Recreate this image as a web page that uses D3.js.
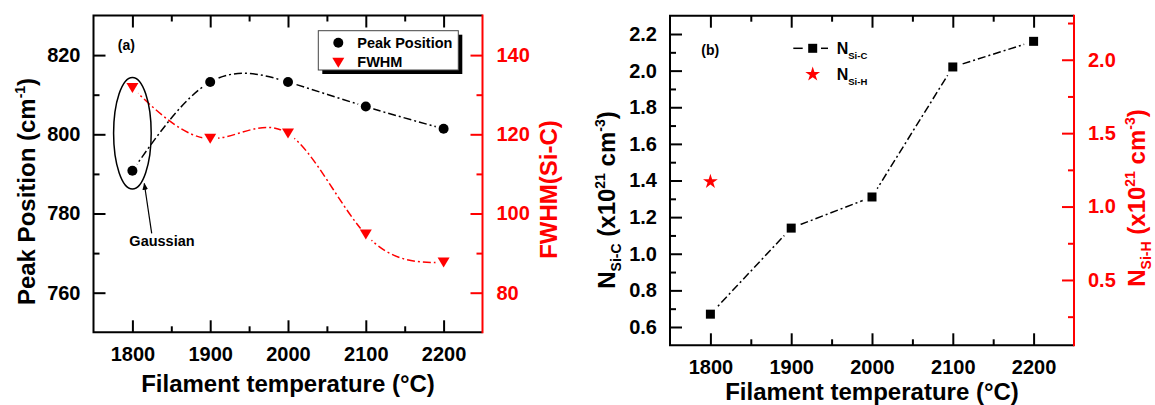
<!DOCTYPE html>
<html>
<head>
<meta charset="utf-8">
<script src="https://cdn.jsdelivr.net/npm/d3@7"></script>
<style>
  html, body { margin: 0; padding: 0; background: #fff; }
  svg { display: block; font-family: "Liberation Sans", Arial, sans-serif; font-weight: bold; }
</style>
</head>
<body>
<svg id="fig" width="1155" height="405"></svg>
<script>
// Filament temperature series (°C)
const temps = [1800, 1900, 2000, 2100, 2200];
// Panel (a): Raman Si-C band
const peakPosition = [790.8, 813.2, 813.2, 807.0, 801.4];   // cm^-1
const fwhm = [131.7, 118.9, 120.2, 94.7, 87.6];             // FWHM(Si-C)
// Panel (b): bond densities (x10^21 cm^-3)
const nSiC = [0.67, 1.14, 1.31, 2.02, 2.16];
const nSiHTemps = [1800];
const nSiH = [1.17];

// Axis ticks
const xTicks = [1800, 1900, 2000, 2100, 2200];
const xMinor = [1850, 1950, 2050, 2150];
const peakTicks = [760, 780, 800, 820];
const peakMinor = [770, 790, 810];
const fwhmTicks = [80, 100, 120, 140];
const fwhmMinor = [90, 110, 130];
const nSiCTicks = [0.6, 0.8, 1.0, 1.2, 1.4, 1.6, 1.8, 2.0, 2.2];
const nSiCMinor = [0.7, 0.9, 1.1, 1.3, 1.5, 1.7, 1.9, 2.1];
const nSiHTicks = [0.5, 1.0, 1.5, 2.0];
const nSiHMinor = [0.25, 0.75, 1.25, 1.75, 2.25];

const RED = "#ff0000";
const svg = d3.select("#fig");
const defs = svg.append("defs");

defs.append("marker")
  .attr("id", "arrowHead")
  .attr("viewBox", "0 0 10 10")
  .attr("refX", 9).attr("refY", 5)
  .attr("markerWidth", 7).attr("markerHeight", 7)
  .attr("markerUnits", "userSpaceOnUse")
  .attr("orient", "auto")
  .append("path").attr("d", "M0,1 L10,5 L0,9 Z").attr("fill", "#000");

const DASHDOT = "8,3,2,3";

// Writes a text built from runs: {t, s(size), dy}
function richText(sel, runs) {
  runs.forEach(r => {
    const ts = sel.append("tspan").text(r.t);
    if (r.s) ts.attr("font-size", r.s);
    if (r.dy) ts.attr("dy", r.dy);
  });
  return sel;
}

// Frame + axes for one panel
function drawFrame(g, box, x, yL, yR, opts) {
  const { left, right, top, bottom } = box;
  const styleAxis = (a, color) => {
    a.select(".domain").remove();
    a.selectAll("line").attr("stroke", color).attr("stroke-width", 2);
    a.selectAll("text").attr("fill", color)
      .attr("font-size", 20).attr("font-family", "Liberation Sans, Arial, sans-serif")
      .attr("font-weight", "bold");
  };
  // bottom
  styleAxis(g.append("g").attr("transform", `translate(0,${bottom})`)
    .call(d3.axisBottom(x).tickValues(xTicks).tickSize(-12).tickPadding(15).tickFormat(d3.format("d"))), "#000");
  styleAxis(g.append("g").attr("transform", `translate(0,${bottom})`)
    .call(d3.axisBottom(x).tickValues(xMinor).tickSize(-6).tickFormat("")), "#000");
  // top
  styleAxis(g.append("g").attr("transform", `translate(0,${top})`)
    .call(d3.axisTop(x).tickValues(xTicks).tickSize(-12).tickFormat("")), "#000");
  styleAxis(g.append("g").attr("transform", `translate(0,${top})`)
    .call(d3.axisTop(x).tickValues(xMinor).tickSize(-6).tickFormat("")), "#000");
  // left
  styleAxis(g.append("g").attr("transform", `translate(${left},0)`)
    .call(d3.axisLeft(yL).tickValues(opts.lTicks).tickSize(-12).tickPadding(13).tickFormat(opts.lFmt)), "#000");
  styleAxis(g.append("g").attr("transform", `translate(${left},0)`)
    .call(d3.axisLeft(yL).tickValues(opts.lMinor).tickSize(-6).tickFormat("")), "#000");
  // right (red)
  styleAxis(g.append("g").attr("transform", `translate(${right},0)`)
    .call(d3.axisRight(yR).tickValues(opts.rTicks).tickSize(-12).tickPadding(14).tickFormat(opts.rFmt)), RED);
  styleAxis(g.append("g").attr("transform", `translate(${right},0)`)
    .call(d3.axisRight(yR).tickValues(opts.rMinor).tickSize(-6).tickFormat("")), RED);

  // frame lines
  g.append("path").attr("d", `M${right},${top} L${left},${top} L${left},${bottom} L${right},${bottom}`)
    .attr("fill", "none").attr("stroke", "#000").attr("stroke-width", 2);
  g.append("line").attr("x1", right).attr("x2", right).attr("y1", top - 1).attr("y2", bottom + 1)
    .attr("stroke", RED).attr("stroke-width", 2);
}

// mask that hides a line near its markers
function gapMask(id, box, pts, r) {
  const m = defs.append("mask").attr("id", id).attr("maskUnits", "userSpaceOnUse")
    .attr("x", 0).attr("y", 0).attr("width", 1155).attr("height", 405);
  m.append("rect").attr("width", 1155).attr("height", 405).attr("fill", "#fff");
  m.selectAll("circle").data(pts).join("circle")
    .attr("cx", d => d[0]).attr("cy", d => d[1]).attr("r", r).attr("fill", "#000");
  return `url(#${id})`;
}

function downTriangle(cx, cy) {
  return `M${cx - 6},${cy - 5} L${cx + 6},${cy - 5} L${cx},${cy + 5} Z`;
}

// ---------------- Panel (a) ----------------
{
  const box = { left: 93.5, right: 482.5, top: 15.5, bottom: 332.3 };
  const x = d3.scaleLinear().domain([1750, 2250]).range([box.left, box.right]);
  const yL = d3.scaleLinear().domain([750, 830]).range([box.bottom, box.top]);
  const yR = d3.scaleLinear().domain([70, 150]).range([box.bottom, box.top]);
  const g = svg.append("g");

  drawFrame(g, box, x, yL, yR, {
    lTicks: peakTicks, lMinor: peakMinor, lFmt: d3.format("d"),
    rTicks: fwhmTicks, rMinor: fwhmMinor, rFmt: d3.format("d")
  });

  const peakPts = temps.map((t, i) => [x(t), yL(peakPosition[i])]);
  const fwhmPts = temps.map((t, i) => [x(t), yR(fwhm[i])]);
  const spline = d3.line().curve(d3.curveNatural);

  g.append("path").attr("d", spline(peakPts))
    .attr("fill", "none").attr("stroke", "#000").attr("stroke-width", 1.5)
    .attr("stroke-dasharray", DASHDOT)
    .attr("mask", gapMask("gapPeak", box, peakPts, 8));
  g.append("path").attr("d", spline(fwhmPts))
    .attr("fill", "none").attr("stroke", RED).attr("stroke-width", 1.5)
    .attr("stroke-dasharray", DASHDOT)
    .attr("mask", gapMask("gapFwhm", box, fwhmPts, 8));

  g.selectAll("circle.peak").data(peakPts).join("circle").attr("class", "peak")
    .attr("cx", d => d[0]).attr("cy", d => d[1]).attr("r", 5).attr("fill", "#000");
  g.selectAll("path.fwhm").data(fwhmPts).join("path").attr("class", "fwhm")
    .attr("d", d => downTriangle(d[0], d[1])).attr("fill", RED);

  // Gaussian annotation around the 1800 °C points
  g.append("ellipse").attr("cx", x(1800)).attr("cy", 133.2).attr("rx", 18.8).attr("ry", 55.8)
    .attr("fill", "none").attr("stroke", "#000").attr("stroke-width", 1.5);
  g.append("line").attr("x1", 151.7).attr("y1", 233.3).attr("x2", 144.3).attr("y2", 183.5)
    .attr("stroke", "#000").attr("stroke-width", 1.2).attr("marker-end", "url(#arrowHead)");
  g.append("text").attr("x", 162).attr("y", 246).attr("text-anchor", "middle")
    .attr("font-size", 14.5).text("Gaussian");

  g.append("text").attr("x", 126.3).attr("y", 50).attr("text-anchor", "middle")
    .attr("font-size", 14).text("(a)");

  // legend
  g.append("rect").attr("x", 322.3).attr("y", 34.7).attr("width", 140).attr("height", 39.3).attr("fill", "#000");
  g.append("rect").attr("x", 318.3).attr("y", 30.7).attr("width", 140).attr("height", 39.3)
    .attr("fill", "#fff").attr("stroke", "#444").attr("stroke-width", 1);
  g.append("circle").attr("cx", 338.3).attr("cy", 42.7).attr("r", 5).attr("fill", "#000");
  g.append("text").attr("x", 357.3).attr("y", 47.5).attr("font-size", 14.5).text("Peak Position");
  g.append("path").attr("d", downTriangle(338.3, 62.7)).attr("fill", RED);
  g.append("text").attr("x", 357.3).attr("y", 66.5).attr("font-size", 14.5).text("FWHM");

  // axis titles
  g.append("text").attr("x", (box.left + box.right) / 2).attr("y", 392.3)
    .attr("text-anchor", "middle").attr("font-size", 24).text("Filament temperature (°C)");
  richText(g.append("text").attr("transform", "translate(35,191.5) rotate(-90)")
    .attr("text-anchor", "middle").attr("font-size", 24),
    [{ t: "Peak Position (cm" }, { t: "-1", s: 14, dy: -10 }, { t: ")", dy: 10 }]);
  g.append("text").attr("transform", "translate(556.5,189.5) rotate(-90)")
    .attr("text-anchor", "middle").attr("font-size", 24).attr("fill", RED).text("FWHM(Si-C)");
}

// ---------------- Panel (b) ----------------
{
  const box = { left: 670, right: 1074, top: 15.7, bottom: 345.3 };
  const x = d3.scaleLinear().domain([1750, 2250]).range([box.left, box.right]);
  const yL = d3.scaleLinear().domain([0.5, 2.3]).range([box.bottom, box.top]);
  const yR = d3.scaleLinear().domain([0.055, 2.3]).range([box.bottom, box.top]);
  const g = svg.append("g");

  drawFrame(g, box, x, yL, yR, {
    lTicks: nSiCTicks, lMinor: nSiCMinor, lFmt: d3.format(".1f"),
    rTicks: nSiHTicks, rMinor: nSiHMinor, rFmt: d3.format(".1f")
  });

  const sicPts = temps.map((t, i) => [x(t), yL(nSiC[i])]);
  const sihPts = nSiHTemps.map((t, i) => [x(t), yR(nSiH[i])]);

  g.append("path").attr("d", d3.line()(sicPts))
    .attr("fill", "none").attr("stroke", "#000").attr("stroke-width", 1.5)
    .attr("stroke-dasharray", DASHDOT)
    .attr("mask", gapMask("gapSiC", box, sicPts, 10));
  g.selectAll("rect.sic").data(sicPts).join("rect").attr("class", "sic")
    .attr("x", d => d[0] - 4.5).attr("y", d => d[1] - 4.5)
    .attr("width", 9).attr("height", 9).attr("fill", "#000");
  const star = d3.symbol().type(d3.symbolStar).size(68);
  g.selectAll("path.sih").data(sihPts).join("path").attr("class", "sih")
    .attr("transform", d => `translate(${d[0]},${d[1]})`).attr("d", star()).attr("fill", RED);

  g.append("text").attr("x", 710.3).attr("y", 55).attr("text-anchor", "middle")
    .attr("font-size", 14).text("(b)");

  // legend
  g.append("line").attr("x1", 793.3).attr("x2", 802.7).attr("y1", 48.3).attr("y2", 48.3)
    .attr("stroke", "#000").attr("stroke-width", 1.5);
  g.append("line").attr("x1", 821).attr("x2", 828).attr("y1", 48.3).attr("y2", 48.3)
    .attr("stroke", "#000").attr("stroke-width", 1.5);
  g.append("rect").attr("x", 808.2).attr("y", 43.8).attr("width", 9).attr("height", 9).attr("fill", "#000");
  richText(g.append("text").attr("x", 836.7).attr("y", 53.5).attr("font-size", 16),
    [{ t: "N" }, { t: "Si-C", s: 9.5, dy: 5 }]);
  g.append("path").attr("transform", "translate(812.7,74.3)").attr("d", star()).attr("fill", RED);
  richText(g.append("text").attr("x", 836.7).attr("y", 80).attr("font-size", 16),
    [{ t: "N" }, { t: "Si-H", s: 9.5, dy: 5 }]);

  // axis titles
  g.append("text").attr("x", (box.left + box.right) / 2).attr("y", 400)
    .attr("text-anchor", "middle").attr("font-size", 24).text("Filament temperature (°C)");
  richText(g.append("text").attr("transform", "translate(615,200) rotate(-90)")
    .attr("text-anchor", "middle").attr("font-size", 24),
    [{ t: "N" }, { t: "Si-C", s: 14, dy: 6 }, { t: " (x10", dy: -6 }, { t: "21", s: 14, dy: -10 },
     { t: " cm", dy: 10 }, { t: "-3", s: 14, dy: -10 }, { t: ")", dy: 10 }]);
  richText(g.append("text").attr("transform", "translate(1145,198) rotate(-90)")
    .attr("text-anchor", "middle").attr("font-size", 24).attr("fill", RED),
    [{ t: "N" }, { t: "Si-H", s: 14, dy: 6 }, { t: " (x10", dy: -6 }, { t: "21", s: 14, dy: -10 },
     { t: " cm", dy: 10 }, { t: "-3", s: 14, dy: -10 }, { t: ")", dy: 10 }]);
}
</script>
</body>
</html>
